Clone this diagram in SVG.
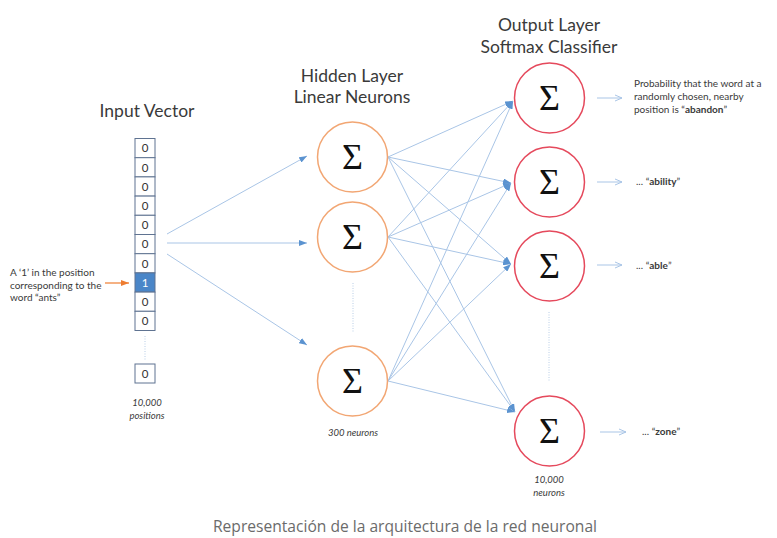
<svg xmlns="http://www.w3.org/2000/svg" width="777" height="538" viewBox="0 0 777 538">
  <style>
    .title { font-family: Lato, "Open Sans", "Liberation Sans", sans-serif; font-size: 17.5px; fill: #3a3a3a; text-anchor: middle; }
    .note { font-family: Lato, "Open Sans", "Liberation Sans", sans-serif; font-size: 10px; fill: #3a3a3a; }
    .count { font-family: Lato, "Open Sans", "Liberation Sans", sans-serif; font-size: 9.5px; font-style: italic; fill: #3a3a3a; text-anchor: middle; }
    .cell { fill: #ffffff; stroke: #5f7391; stroke-width: 1; }
    .cell-on { fill: #4a86c8; stroke: #5f7391; stroke-width: 1; }
    .digit { font-family: Lato, "Open Sans", "Liberation Sans", sans-serif; font-size: 11.5px; fill: #333; text-anchor: middle; }
    .hidden { fill: #ffffff; stroke: #f2a673; stroke-width: 1.5; }
    .output { fill: #ffffff; stroke: #e5495c; stroke-width: 1.5; }
    .sigma { font-family: "Liberation Serif", "DejaVu Serif", serif; font-size: 36px; fill: #111; text-anchor: middle; }
    .edge { stroke: #a9c5e6; stroke-width: 1; fill: none; marker-end: url(#tip); }
    .out-arrow { stroke: #a9c5e6; stroke-width: 1; fill: none; marker-end: url(#open); }
    .dots { stroke: #b8cde6; stroke-width: 1; stroke-dasharray: 1 1.5; fill: none; }
    .caption { font-family: "Open Sans", "Liberation Sans", sans-serif; font-size: 15.6px; fill: #6b6b6b; text-anchor: middle; }
  </style>
  <defs>
    <marker id="tip" viewBox="0 0 8 6" refX="8" refY="3" markerWidth="8" markerHeight="6" markerUnits="userSpaceOnUse" orient="auto">
      <path d="M0,0 L8,3 L0,6 z" fill="#5b93d0"/>
    </marker>
    <marker id="open" viewBox="0 0 8 8" refX="8" refY="4" markerWidth="8" markerHeight="8" markerUnits="userSpaceOnUse" orient="auto">
      <path d="M1,1 L8,4 L1,7" fill="none" stroke="#a9c5e6" stroke-width="1"/>
    </marker>
    <marker id="orange" viewBox="0 0 8 6" refX="8" refY="3" markerWidth="8" markerHeight="6" markerUnits="userSpaceOnUse" orient="auto">
      <path d="M0,0 L8,3 L0,6 z" fill="#ee7d31"/>
    </marker>
  </defs>

  <rect width="777" height="538" fill="#ffffff"/>

  <!-- layer titles -->
  <text class="title" x="147" y="117">Input Vector</text>
  <text class="title" x="352" y="82">Hidden Layer</text>
  <text class="title" x="352" y="103">Linear Neurons</text>
  <text class="title" x="549" y="31">Output Layer</text>
  <text class="title" x="549" y="53">Softmax Classifier</text>

  <!-- connectors -->
  <g id="connectors">
    <line class="edge" x1="167" y1="234" x2="307" y2="156"/>
    <line class="edge" x1="167" y1="243" x2="307" y2="243"/>
    <line class="edge" x1="167" y1="254" x2="307" y2="345"/>

    <line class="edge" x1="388" y1="157" x2="513" y2="101"/>
    <line class="edge" x1="388" y1="157" x2="511" y2="183"/>
    <line class="edge" x1="388" y1="157" x2="511" y2="264"/>
    <line class="edge" x1="388" y1="157" x2="515" y2="412"/>

    <line class="edge" x1="388" y1="237" x2="513" y2="101"/>
    <line class="edge" x1="388" y1="237" x2="511" y2="183"/>
    <line class="edge" x1="388" y1="237" x2="511" y2="264"/>
    <line class="edge" x1="388" y1="237" x2="515" y2="412"/>

    <line class="edge" x1="388" y1="381" x2="513" y2="101"/>
    <line class="edge" x1="388" y1="381" x2="511" y2="183"/>
    <line class="edge" x1="388" y1="381" x2="511" y2="264"/>
    <line class="edge" x1="388" y1="381" x2="515" y2="412"/>

    <line class="out-arrow" x1="597" y1="98" x2="622" y2="98"/>
    <line class="out-arrow" x1="597" y1="182" x2="622" y2="182"/>
    <line class="out-arrow" x1="597" y1="265" x2="622" y2="265"/>
    <line class="out-arrow" x1="600" y1="432" x2="626" y2="432"/>

    <line x1="105" y1="283" x2="129" y2="283" stroke="#ee7d31" stroke-width="1.2" marker-end="url(#orange)"/>
  </g>

  <!-- one-hot input vector -->
  <g id="input-vector">
    <rect class="cell" x="135" y="138.5" width="20" height="19.2"/>
    <rect class="cell" x="135" y="157.7" width="20" height="19.2"/>
    <rect class="cell" x="135" y="176.9" width="20" height="19.2"/>
    <rect class="cell" x="135" y="196.1" width="20" height="19.2"/>
    <rect class="cell" x="135" y="215.3" width="20" height="19.2"/>
    <rect class="cell" x="135" y="234.5" width="20" height="19.2"/>
    <rect class="cell" x="135" y="253.7" width="20" height="19.2"/>
    <rect class="cell-on" x="135" y="272.9" width="20" height="19.2"/>
    <rect class="cell" x="135" y="292.1" width="20" height="19.2"/>
    <rect class="cell" x="135" y="311.3" width="20" height="19.2"/>
    <rect class="cell" x="135" y="364" width="20" height="19"/>
    <text class="digit" x="145" y="152.3">0</text>
    <text class="digit" x="145" y="171.5">0</text>
    <text class="digit" x="145" y="190.7">0</text>
    <text class="digit" x="145" y="209.9">0</text>
    <text class="digit" x="145" y="229.1">0</text>
    <text class="digit" x="145" y="248.3">0</text>
    <text class="digit" x="145" y="267.5">0</text>
    <text class="digit" x="145" y="286.7" style="fill:#ffffff">1</text>
    <text class="digit" x="145" y="305.9">0</text>
    <text class="digit" x="145" y="325.1">0</text>
    <text class="digit" x="145" y="377.8">0</text>
    <line class="dots" x1="145" y1="336" x2="145" y2="360"/>
    <text class="count" x="147" y="406">10,000</text>
    <text class="count" x="147" y="419">positions</text>
  </g>

  <g id="input-note">
    <text class="note" x="10" y="276">A ‘1’ in the position</text>
    <text class="note" x="10" y="288.5">corresponding to the</text>
    <text class="note" x="10" y="301">word “ants”</text>
  </g>

  <!-- hidden layer -->
  <g id="hidden-1">
    <circle class="hidden" cx="352.5" cy="157" r="35"/>
    <text class="sigma" x="352.5" y="169">Σ</text>
  </g>
  <g id="hidden-2">
    <circle class="hidden" cx="352.5" cy="237" r="35"/>
    <text class="sigma" x="352.5" y="249">Σ</text>
  </g>
  <g id="hidden-3">
    <circle class="hidden" cx="352.5" cy="381" r="35"/>
    <text class="sigma" x="352.5" y="393">Σ</text>
  </g>
  <line class="dots" x1="353" y1="283" x2="353" y2="333"/>
  <text class="count" x="353" y="436">300 neurons</text>

  <!-- output layer -->
  <g id="output-1">
    <circle class="output" cx="549.5" cy="98" r="35"/>
    <text class="sigma" x="549.5" y="110">Σ</text>
  </g>
  <g id="output-2">
    <circle class="output" cx="549.5" cy="182" r="35"/>
    <text class="sigma" x="549.5" y="194">Σ</text>
  </g>
  <g id="output-3">
    <circle class="output" cx="549.5" cy="266" r="35"/>
    <text class="sigma" x="549.5" y="278">Σ</text>
  </g>
  <g id="output-4">
    <circle class="output" cx="549.5" cy="431" r="35"/>
    <text class="sigma" x="549.5" y="443">Σ</text>
  </g>
  <line class="dots" x1="549" y1="312" x2="549" y2="382"/>
  <text class="count" x="549" y="483">10,000</text>
  <text class="count" x="549" y="496">neurons</text>

  <!-- output labels -->
  <g id="output-labels">
    <text class="note" x="634" y="87">Probability that the word at a</text>
    <text class="note" x="634" y="100">randomly chosen, nearby</text>
    <text class="note" x="634" y="113">position is “<tspan font-weight="bold">abandon</tspan>”</text>
    <text class="note" x="636" y="185">... “<tspan font-weight="bold">ability</tspan>”</text>
    <text class="note" x="636" y="269">... “<tspan font-weight="bold">able</tspan>”</text>
    <text class="note" x="642" y="435">... “<tspan font-weight="bold">zone</tspan>”</text>
  </g>

  <text class="caption" x="405" y="532">Representación de la arquitectura de la red neuronal</text>
</svg>
